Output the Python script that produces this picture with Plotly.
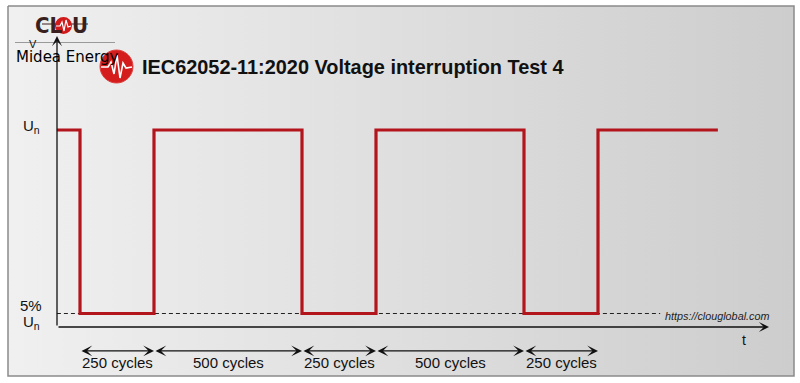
import plotly.graph_objects as go

# ---------------- data ----------------
cycle_breaks = [0, 250, 750, 1000, 1500, 1750]          # cycle where level switches
segment_labels = ["250 cycles", "500 cycles", "250 cycles", "500 cycles", "250 cycles"]
wave_t = [-78, 0, 0, 250, 250, 750, 750, 1000, 1000, 1500, 1500, 1750, 1750, 2155]
wave_v = [100, 100, 5, 5, 100, 100, 5, 5, 100, 100, 5, 5, 100, 100]   # % of Un
ref_t = [-78, 1960]
ref_v = [5, 5]
level_un = 100
level_low = 5
title_text = "IEC62052-11:2020 Voltage interruption Test 4"
url_text = "https://clouglobal.com"

W, H = 800, 383
RED = "#b3151c"
FONT = "Liberation Sans, Arial"

fig = go.Figure()

# background frame (pixel axes x/y)
fig.add_trace(go.Scatter(
    x=[8, 794, 794, 8, 8], y=[6, 6, 376, 376, 6], mode="lines",
    fill="toself",
    fillgradient=dict(type="horizontal", colorscale=[[0, "#f0f0f0"], [1, "#cdcdcd"]]),
    line=dict(color="#8a8a8a", width=1.5), hoverinfo="skip", showlegend=False,
    xaxis="x", yaxis="y"))

# dashed 5% reference
fig.add_trace(go.Scatter(
    x=ref_t, y=ref_v, mode="lines", line=dict(color="#222222", width=1, dash="4px,3px"),
    hoverinfo="skip", showlegend=False, xaxis="x2", yaxis="y2"))

# waveform
fig.add_trace(go.Scatter(
    x=wave_t, y=wave_v, mode="lines", line=dict(color=RED, width=3.2),
    hoverinfo="skip", showlegend=False, xaxis="x2", yaxis="y2"))

ann = []
shapes = []

# axes arrows (pixel coords)
ann.append(dict(x=57, y=36, ax=57, ay=327, xref="x", yref="y", axref="x", ayref="y",
                text="", showarrow=True, arrowhead=3, arrowsize=1.3, arrowwidth=1.3,
                arrowcolor="#111111", standoff=0, startstandoff=0))
ann.append(dict(x=769, y=327, ax=57, ay=327, xref="x", yref="y", axref="x", ayref="y",
                text="", showarrow=True, arrowhead=3, arrowsize=1.3, arrowwidth=1.3,
                arrowcolor="#111111", standoff=0, startstandoff=0))

# cycle span arrows & labels (data coords)
arrow_v = -14.4
label_v = -20.4
for i, lab in enumerate(segment_labels):
    a, b = cycle_breaks[i], cycle_breaks[i + 1]
    ann.append(dict(x=b, y=arrow_v, ax=a, ay=arrow_v, xref="x2", yref="y2",
                    axref="x2", ayref="y2", text="", showarrow=True,
                    arrowhead=3, startarrowhead=3, arrowside="end+start",
                    arrowsize=1.5, startarrowsize=1.5, arrowwidth=1.2,
                    arrowcolor="#111111", standoff=0, startstandoff=0))
    ann.append(dict(x=(a + b) / 2, y=label_v, xref="x2", yref="y2", text=lab,
                    showarrow=False, xanchor="center", yanchor="middle",
                    font=dict(family=FONT, size=15, color="#111111")))

# level labels
lab_x = -165
ann.append(dict(x=lab_x, y=level_un + 2, xref="x2", yref="y2", text="U<sub>n</sub>",
                showarrow=False, xanchor="center", yanchor="middle",
                font=dict(family=FONT, size=15, color="#111111")))
ann.append(dict(x=lab_x, y=level_low + 4, xref="x2", yref="y2", text="5%",
                showarrow=False, xanchor="center", yanchor="middle",
                font=dict(family=FONT, size=15, color="#111111")))
ann.append(dict(x=lab_x, y=level_low - 4.5, xref="x2", yref="y2", text="U<sub>n</sub>",
                showarrow=False, xanchor="center", yanchor="middle",
                font=dict(family=FONT, size=15, color="#111111")))

# axis letters
ann.append(dict(x=744, y=340, xref="x", yref="y", text="t", showarrow=False,
                font=dict(family=FONT, size=14, color="#111111")))
ann.append(dict(x=33, y=43.5, xref="x", yref="y", text="V", showarrow=False,
                font=dict(family=FONT, size=11, color="#111111")))

# title
ann.append(dict(x=140, y=67, xref="x", yref="y", text="<b>" + title_text + "</b>",
                showarrow=False, xanchor="left", yanchor="middle",
                font=dict(family=FONT, size=19.9, color="#111111")))
# url
ann.append(dict(x=663, y=316, xref="x", yref="y", text="<i>" + url_text + "</i>",
                showarrow=False, xanchor="left", yanchor="middle",
                font=dict(family=FONT, size=10.8, color="#222222")))

# watermark text
shapes.append(dict(type="line", xref="x", yref="y", x0=15, x1=115, y0=42.5, y1=42.5,
                   line=dict(color="#9a9a9a", width=1)))
ann.append(dict(x=14, y=56.5, xref="x", yref="y", text="Midea Energy", showarrow=False,
                xanchor="left", yanchor="middle",
                font=dict(family="DejaVu Sans", size=15, color="#000000")))

# CLOU logo (small)
ann.append(dict(x=49, y=25, xref="x", yref="y", text="<b>CL</b>", showarrow=False,
                xanchor="center", yanchor="middle",
                font=dict(family="Liberation Sans Narrow, DejaVu Sans Condensed", size=22, color="#3a1f1f")))
ann.append(dict(x=79.5, y=25, xref="x", yref="y", text="<b>U</b>", showarrow=False,
                xanchor="center", yanchor="middle",
                font=dict(family="Liberation Sans Narrow, DejaVu Sans Condensed", size=22, color="#3a1f1f")))
shapes.append(dict(type="line", xref="x", yref="y", x0=42, x1=88, y0=24, y1=24,
                   line=dict(color="#3a1f1f", width=1)))
shapes.append(dict(type="circle", xref="x", yref="y", x0=55, x1=72, y0=17, y1=34,
                   fillcolor="#d11a1a", line=dict(width=0)))
shapes.append(dict(type="path", xref="x", yref="y",
                   path="M 56 26 L 60 26 L 62 22 L 64 31 L 66 20 L 68 27 L 71 26",
                   line=dict(color="white", width=1.2)))

# big red logo
shapes.append(dict(type="circle", xref="x", yref="y", x0=100, x1=133, y0=50, y1=83,
                   fillcolor="#d41c1c", line=dict(color="#e04040", width=1)))
shapes.append(dict(type="path", xref="x", yref="y",
                   path="M 101 67 L 108 67 L 111 62 L 114 74 L 117 55 L 120 78 L 123 63 L 126 68 L 132 67",
                   line=dict(color="white", width=1.6)))

fig.update_layout(
    width=W, height=H, margin=dict(l=0, r=0, t=0, b=0),
    paper_bgcolor="white", plot_bgcolor="rgba(0,0,0,0)",
    showlegend=False,
    xaxis=dict(range=[0, W], visible=False, domain=[0, 1], fixedrange=True),
    yaxis=dict(range=[H, 0], visible=False, domain=[0, 1], fixedrange=True),
    xaxis2=dict(range=[-270.27, 2432.43], visible=False, overlaying="x", anchor="y2", fixedrange=True),
    yaxis2=dict(range=[-30.98, 167.30], visible=False, overlaying="y", anchor="x2", fixedrange=True),
    annotations=ann, shapes=shapes,
)

fig.write_html("out.html")
